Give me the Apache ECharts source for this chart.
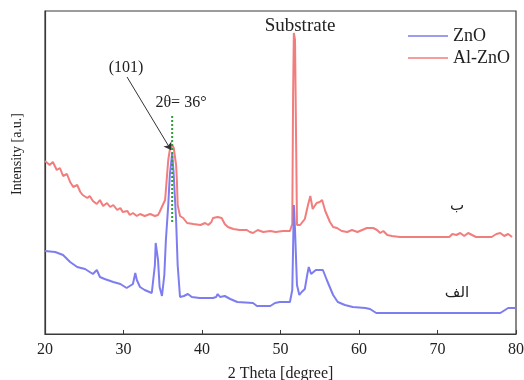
<!DOCTYPE html>
<html>
<head>
<meta charset="utf-8">
<script src="https://cdn.jsdelivr.net/npm/echarts@6/dist/echarts.min.js"></script>
<style>
  html, body { margin: 0; padding: 0; background: #fff; }
  #chart { width: 524px; height: 380px; }
</style>
</head>
<body>
<div id="chart"></div>
<script>
// x tick labels (2 theta, degree)
const xTicks = [20, 30, 40, 50, 60, 70, 80];

// Al-ZnO pattern (intensity in arbitrary units)
const alTheta = [
  20.0, 20.6, 21.0, 21.5, 21.9, 22.3, 22.8, 23.2, 23.6, 24.1,
  24.5, 24.8, 25.4, 25.7, 26.1, 26.6, 27.0, 27.4, 27.9, 28.3,
  28.7, 29.2, 29.6, 29.9, 30.5, 30.8, 31.2, 31.7, 32.1, 32.7,
  33.4, 34.0, 34.4, 34.6, 35.0, 35.3, 35.5, 35.7, 35.9, 36.2,
  36.4, 36.7, 36.8, 36.9, 37.2, 37.6, 38.1, 38.9, 39.8, 40.4,
  40.8, 41.2, 41.4, 42.0, 42.5, 42.9, 43.3, 44.0, 44.8, 45.7,
  46.1, 46.5, 47.1, 47.8, 48.7, 49.4, 50.3, 51.2, 51.5, 51.6,
  51.7, 51.85, 52.0, 52.1, 52.5, 53.1, 53.5, 53.8, 54.1, 54.6,
  55.0, 55.3, 55.7, 56.3, 56.7, 57.2, 57.8, 58.5, 59.1, 59.8,
  60.4, 61.0, 61.8, 62.3, 62.7, 63.1, 63.6, 64.2, 65.2, 67.8,
  70.3, 71.5, 71.9, 72.4, 72.9, 73.4, 73.9, 74.4, 74.9, 76.1,
  76.9, 77.5, 78.0, 78.5, 79.0, 79.5
];
const alIntensity = [
  173, 169, 172, 164, 166, 158, 160, 152, 147, 149,
  142, 139, 136, 138, 133, 130, 134, 128, 131, 127,
  129, 124, 126, 122, 123, 119, 121, 118, 120, 118,
  120, 118, 119, 122, 129, 134, 154, 174, 184, 189,
  186, 169, 154, 129, 118, 116, 111, 110, 109, 111,
  109, 112, 116, 117, 116, 110, 107, 105, 104, 104,
  102, 101, 104, 102, 103, 102, 103, 103, 110, 234,
  301, 294, 184, 109, 109, 115, 129, 138, 125, 131,
  132, 134, 123, 112, 107, 106, 103, 102, 104, 102,
  104, 106, 106, 104, 101, 103, 99, 98, 97, 97,
  97, 97, 100, 99, 101, 98, 101, 99, 97, 97,
  97, 100, 101, 98, 100, 97
];

// ZnO pattern
const znoTheta = [
  20.0, 21.3, 22.3, 23.2, 24.1, 25.1, 26.1, 26.6, 27.0, 27.6,
  28.7, 29.6, 30.4, 30.8, 31.2, 31.5, 31.7, 32.1, 32.7, 33.6,
  34.0, 34.1, 34.4, 34.6, 34.9, 35.2, 35.4, 35.7, 35.9, 36.2,
  36.4, 36.7, 36.9, 37.2, 37.7, 38.2, 38.7, 39.7, 41.4, 41.8,
  42.0, 42.3, 42.9, 43.6, 44.5, 46.5, 47.0, 48.7, 49.3, 49.9,
  51.2, 51.5, 51.6, 51.7, 51.85, 52.1, 52.4, 52.7, 53.1, 53.4,
  53.6, 53.9, 54.1, 54.5, 55.4, 55.9, 56.7, 57.3, 58.2, 59.2,
  60.8, 61.4, 62.2, 69.4, 78.0, 78.6, 79.0, 80.0
];
const znoIntensity = [
  83, 82, 79, 72, 67, 65, 60, 64, 57, 55,
  52, 50, 46, 48, 50, 61, 54, 47, 44, 41,
  69, 91, 74, 47, 38, 59, 94, 129, 159, 181,
  159, 114, 69, 37, 38, 40, 37, 36, 36, 37,
  40, 37, 38, 35, 32, 31, 28, 28, 31, 32,
  32, 44, 84, 129, 104, 49, 39, 42, 45, 59,
  67, 60, 61, 64, 64, 54, 39, 32, 29, 27,
  26, 25, 21, 21, 21, 24, 26, 26
];

// (101) guide: dotted line at 2θ = 36° and the pointer arrow
const guideTheta = [36.2, 36.2];
const guideIntensity = [112, 219];
const arrowFrom = [30.45, 257];
const arrowTo = [36.05, 184];

const serif = '"Liberation Serif", "DejaVu Serif", serif';
const arabic = '"DejaVu Sans", "Noto Sans", sans-serif';

function pairs(xs, ys) {
  return xs.map((x, i) => [x, ys[i]]);
}

// 标注文字
function label(text, x, y, font, rotation) {
  return {
    type: 'text',
    x: x,
    y: y,
    rotation: rotation || 0,
    style: {
      text: text,
      font: font,
      fill: '#222',
      align: 'center',
      verticalAlign: 'middle',
    },
  };
}

const chart = echarts.init(document.getElementById('chart'));

const option = {
  animation: false,
  backgroundColor: '#fff',
  grid: {
    left: 45,
    right: 8,
    top: 11,
    bottom: 46,
    outerBoundsMode: 'none',
    show: true,
    borderColor: '#3a3a3a',
    borderWidth: 1.2,
  },
  legend: {
    data: ['ZnO', 'Al-ZnO'],
    orient: 'vertical',
    left: 403,
    top: 22,
    icon: 'rect',
    itemWidth: 40,
    itemHeight: 1.6,
    itemGap: 4,
    textStyle: {
      fontFamily: serif,
      fontSize: 18,
      color: '#222',
    },
  },
  xAxis: {
    type: 'value',
    min: 20,
    max: 80,
    interval: 10,
    name: '2 Theta [degree]',
    nameLocation: 'middle',
    nameGap: 32,
    nameTextStyle: {
      fontFamily: serif,
      fontSize: 16,
      color: '#222',
    },
    axisLine: { lineStyle: { color: '#3a3a3a', width: 1.2 } },
    axisTick: { inside: true, length: 4, lineStyle: { color: '#3a3a3a' } },
    axisLabel: {
      margin: 8,
      fontFamily: serif,
      fontSize: 16,
      color: '#222',
      formatter: (v) => (xTicks.includes(v) ? String(v) : ''),
    },
    splitLine: { show: false },
  },
  yAxis: {
    type: 'value',
    min: 0,
    max: 323,
    axisLine: { show: true, lineStyle: { color: '#3a3a3a', width: 1.2 } },
    axisTick: { show: false },
    axisLabel: { show: false },
    splitLine: { show: false },
  },
  series: [
    {
      name: 'Al-ZnO',
      type: 'line',
      symbol: 'none',
      data: pairs(alTheta, alIntensity),
      lineStyle: { color: '#F27D7D', width: 2 },
      itemStyle: { color: '#F27D7D' },
    },
    {
      name: 'ZnO',
      type: 'line',
      symbol: 'none',
      data: pairs(znoTheta, znoIntensity),
      lineStyle: { color: '#7D7DF0', width: 2 },
      itemStyle: { color: '#7D7DF0' },
      markLine: {
        silent: true,
        symbol: ['none', 'arrow'],
        symbolSize: 7,
        label: { show: false },
        lineStyle: { color: '#333', width: 1, type: 'solid' },
        data: [[{ coord: arrowFrom }, { coord: arrowTo }]],
      },
    },
    {
      name: 'guide',
      type: 'line',
      symbol: 'none',
      data: pairs(guideTheta, guideIntensity),
      lineStyle: { color: '#2E9E3A', width: 2, type: [2, 2] },
    },
  ],
  graphic: [
    label('Substrate', 300, 26, '19px ' + serif),
    label('(101)', 126, 68, '16px ' + serif),
    label('2θ= 36°', 181, 103, '16px ' + serif),
    label('ب', 457, 206, '15px ' + arabic),
    label('الف', 457, 293, '15px ' + arabic),
    label('Intensity [a.u.]', 17, 154, '14px ' + serif, Math.PI / 2),
  ],
};

chart.setOption(option);
</script>
</body>
</html>
